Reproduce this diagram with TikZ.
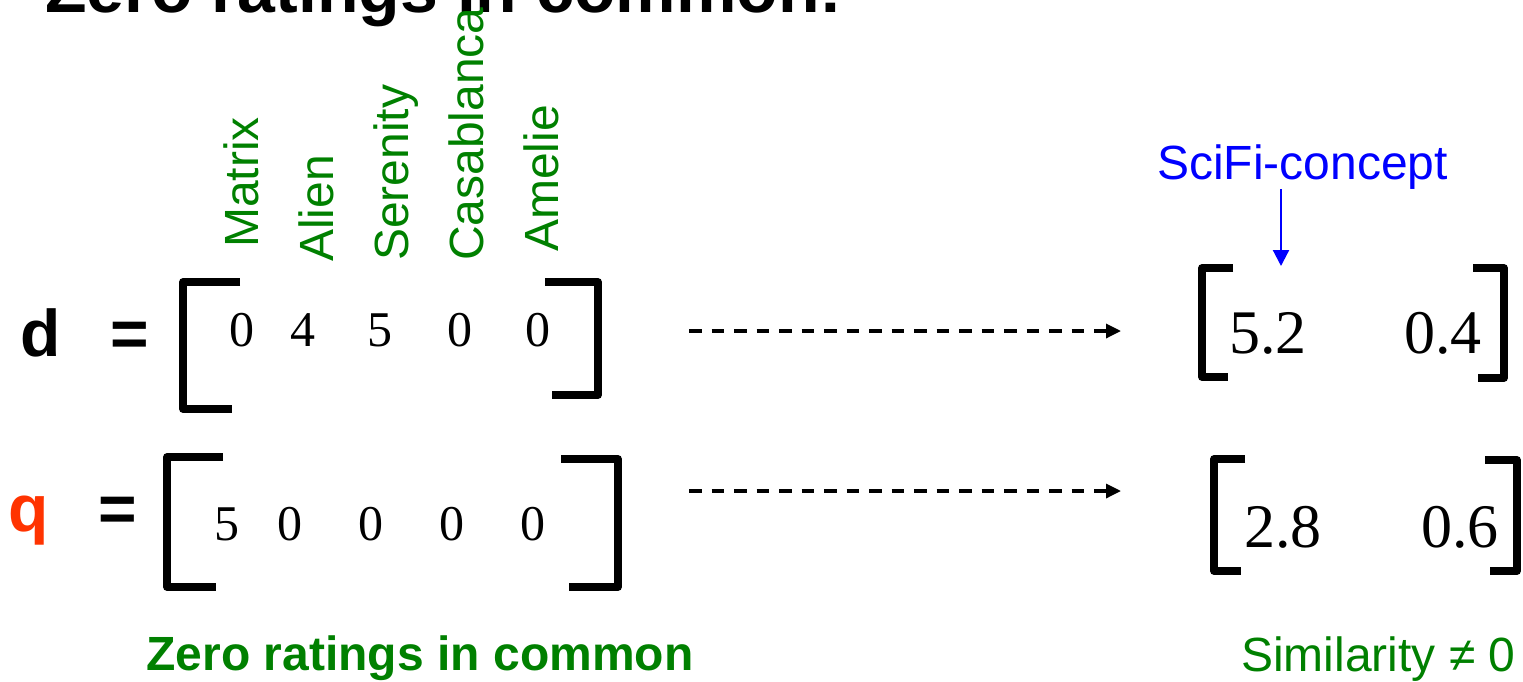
\documentclass[tikz,border=0pt]{standalone}
\usepackage{fontspec}
\setmainfont{Liberation Sans}
\newfontfamily\tms{Liberation Serif}
\usetikzlibrary{arrows.meta}
\definecolor{grn}{RGB}{0,128,0}
\definecolor{qred}{RGB}{255,51,0}
\definecolor{blu}{RGB}{0,0,255}
\tikzset{
  movie/.style={inner sep=0pt, anchor=base west, rotate=90, text=grn, font=\fontsize{48}{48}\selectfont},
  lnum/.style={inner sep=0pt, anchor=base, font=\tms\fontsize{50}{50}\selectfont},
  rnum/.style={inner sep=0pt, anchor=base west, font=\tms\fontsize{62}{62}\selectfont},
  vname/.style={inner sep=0pt, anchor=base west, font=\fontsize{66}{66}\selectfont\bfseries},
  eqs/.style={inner sep=0pt, anchor=center, font=\fontsize{66}{66}\selectfont\bfseries},
  brk/.style={line width=7.5pt, line join=round, line cap=butt},
  dasharrow/.style={line width=3.3pt, dash pattern=on 12.5pt off 10pt, -{Triangle[length=15pt,width=14pt]}},
  bluearrow/.style={blu, line width=2.2pt, -{Triangle[length=16pt,width=16pt]}}
}
\begin{document}
\begin{tikzpicture}[x=1pt,y=-1pt]
\useasboundingbox (0,0) rectangle (1523,681);
% title (cut off at top)
\node[inner sep=0pt, anchor=base west, font=\fontsize{68}{68}\selectfont\bfseries] (title) at (45,12) {Zero ratings in common:};
% movie labels
\node[movie] (matrix) at (258,248) {Matrix};
\node[movie] (alien) at (333,262) {Alien};
\node[movie] (serenity) at (408,261) {Serenity};
\node[movie] (casablanca) at (483,261) {Casablanca};
\node[movie] (amelie) at (558,252) {Amelie};
% d row
\node[vname] (d) at (20,356) {d};
\node[eqs] (eqd) at (130,339) {=};
\draw[brk] (240,282) -- (183,282) -- (183,409) -- (232,409);
\draw[brk] (545,282) -- (598,282) -- (598,395) -- (552,395);
\node[lnum] (d1) at (242,346) {0};
\node[lnum] (d2) at (303,346) {4};
\node[lnum] (d3) at (380,346) {5};
\node[lnum] (d4) at (460,346) {0};
\node[lnum] (d5) at (538,346) {0};
% q row
\node[vname, text=qred] (q) at (8,531) {q};
\node[eqs] (eqq) at (118,514) {=};
\draw[brk] (223,457) -- (167,457) -- (167,587) -- (216,587);
\draw[brk] (561,459) -- (618,459) -- (618,587) -- (569,587);
\node[lnum] (q1) at (227,540) {5};
\node[lnum] (q2) at (290,540) {0};
\node[lnum] (q3) at (371,540) {0};
\node[lnum] (q4) at (452,540) {0};
\node[lnum] (q5) at (533,540) {0};
% dashed arrows
\coordinate (a1s) at (689,331);
\coordinate (a1e) at (1121,331);
\coordinate (a2s) at (689,491);
\coordinate (a2e) at (1121,491);
\draw[dasharrow] (a1s) -- (a1e);
\draw[dasharrow] (a2s) -- (a2e);
% reduced vectors
\draw[brk] (1233,268) -- (1202,268) -- (1202,377) -- (1228,377);
\draw[brk] (1473,268) -- (1504,268) -- (1504,378) -- (1478,378);
\node[rnum] (r1) at (1229,353) {5.2};
\node[rnum] (r2) at (1404,353) {0.4};
\draw[brk] (1245,459) -- (1214,459) -- (1214,571) -- (1241,571);
\draw[brk] (1485,460) -- (1517,460) -- (1517,571) -- (1490,571);
\node[rnum] (s1) at (1244,547) {2.8};
\node[rnum] (s2) at (1421,547) {0.6};
% SciFi concept
\node[inner sep=0pt, anchor=base west, text=blu, font=\fontsize{48}{48}\selectfont] (sci) at (1157,179) {SciFi-concept};
\coordinate (scitip) at (1281,266);
\draw[bluearrow] (scitip |- sci.south) -- (scitip);
% captions
\node[inner sep=0pt, anchor=base, text=grn, font=\fontsize{48}{48}\selectfont\bfseries] (zero) at (420,670) {Zero ratings in common};
\node[inner sep=0pt, anchor=base west, text=grn, font=\fontsize{48}{48}\selectfont] (sim) at (1241,671) {Similarity ≠ 0};
\end{tikzpicture}
\end{document}
